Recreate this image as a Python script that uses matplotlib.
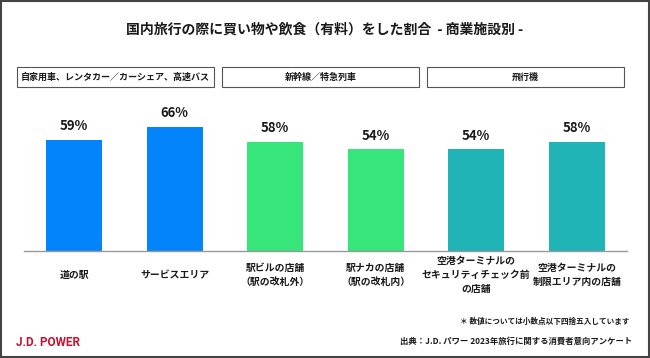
import matplotlib
matplotlib.use("Agg")
import matplotlib.pyplot as plt
import matplotlib.transforms as mtransforms
from matplotlib.patches import Rectangle

plt.rcParams['font.family'] = ['Noto Sans CJK JP', 'DejaVu Sans']

# data
categories = ['道の駅', 'サービスエリア', '駅ビルの店舗\n（駅の改札外）', '駅ナカの店舗\n（駅の改札内）',
              '空港ターミナルの\nセキュリティチェック前\nの店舗', '空港ターミナルの\n制限エリア内の店舗']
values = [59, 66, 58, 54, 54, 58]
groups = ['自家用車、レンタカー／カーシェア、高速バス', '新幹線／特急列車', '飛行機']
colors = ['#0384FA', '#0384FA', '#37E67B', '#37E67B', '#21B4B6', '#21B4B6']

fig = plt.figure(figsize=(6.5, 3.58), dpi=100)
ax = fig.add_axes([24 / 650, 1 - 250.7 / 358, 603 / 650, 131.25 / 358])

x = list(range(len(values)))
bars = ax.bar(x, values, width=0.555, color=colors)
for xi, v in zip(x, values):
    ax.annotate(f'{v}%', (xi, v), xytext=(0, 10), textcoords='offset points',
                ha='center', va='center', fontsize=9.5, fontweight='bold', color='#1a1a1a')

ax.set_xlim(-0.5, 5.5)
ax.set_ylim(0, 70)
ax.set_yticks([])
for s in ['top', 'right', 'left']:
    ax.spines[s].set_visible(False)
ax.spines['bottom'].set_color('#999999')
ax.spines['bottom'].set_linewidth(1)
ax.set_xticks(x, categories)
ax.tick_params(axis='x', length=0, pad=17.5)
for lbl in ax.get_xticklabels():
    lbl.set_va('center')
    lbl.set_fontsize(7.1)
    lbl.set_fontweight('bold')
    lbl.set_linespacing(1.55)
    lbl.set_color('#1a1a1a')

# group boxes
trans = mtransforms.blended_transform_factory(ax.transData, fig.transFigure)
for g, name in enumerate(groups):
    x0 = 2.04 * g - 0.57
    w = 1.96
    y0 = 1 - 87 / 358
    h = 20 / 358
    fig.patches.append(Rectangle((x0, y0), w, h, transform=trans, fill=False,
                                 edgecolor='#555555', linewidth=0.8))
    fig.text(x0 + w / 2, y0 + h / 2, name, transform=trans, ha='center', va='center',
             fontsize=6.5, fontweight='bold', color='#1a1a1a')

fig.text(0.5, 1 - 29 / 358, '国内旅行の際に買い物や飲食（有料）をした割合  - 商業施設別 -',
         ha='center', va='center', fontsize=10, fontweight='bold', color='#1a1a1a')

fig.text(629 / 650, 1 - 321 / 358, '＊ 数値については小数点以下四捨五入しています',
         ha='right', va='center', fontsize=5.5, fontweight='bold', color='#1a1a1a')
fig.text(632 / 650, 1 - 341 / 358, '出典：J.D. パワー 2023年旅行に関する消費者意向アンケート',
         ha='right', va='center', fontsize=6, fontweight='bold', color='#1a1a1a')
fig.text(16 / 650, 1 - 342 / 358, 'J.D. POWER', ha='left', va='center', fontsize=8.5,
         fontweight='bold', color='#C8102E', family='Roboto')

# outer border
fig.patches.append(Rectangle((0.001, 0.002), 0.997, 0.995, transform=fig.transFigure,
                             fill=False, edgecolor='#444444', linewidth=1.5))

fig.savefig('out.png', dpi=100)
